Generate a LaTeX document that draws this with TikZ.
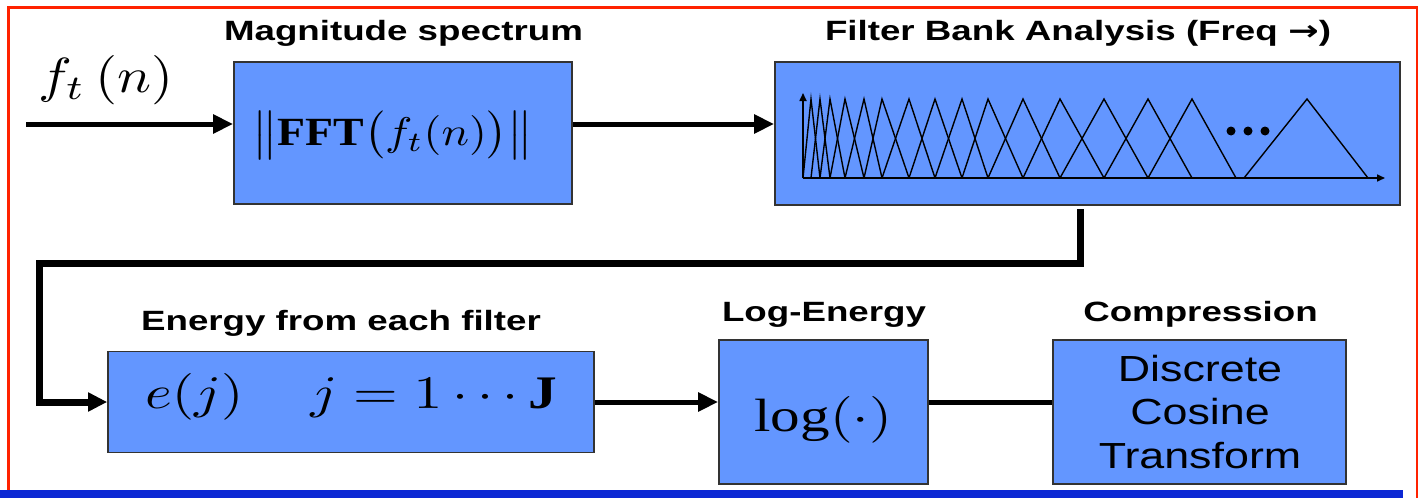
\documentclass[tikz,border=0pt]{standalone}
\usepackage{amsmath}
\usepackage{fontspec}
\setmainfont{Liberation Serif}
\setsansfont{Liberation Sans}
\newfontfamily\arrowfont{DejaVu Sans}
\usepackage{graphicx}
\usepackage{tikz}
\usetikzlibrary{arrows.meta,calc}
\definecolor{boxblue}{RGB}{99,150,255}
\definecolor{framered}{RGB}{255,34,0}
\definecolor{barblue}{RGB}{12,40,212}
\newcommand{\squash}[2][0.76]{\scalebox{1}[#1]{#2}}

\begin{document}
\begin{tikzpicture}[x=1pt,y=-1pt,
    blk/.style={draw=black!80,line width=1.6pt,fill=boxblue,inner sep=0pt},
    lbl/.style={font=\sffamily\bfseries\fontsize{36.7}{40}\selectfont,inner sep=0pt,anchor=base},
    expr/.style={inner sep=0pt,anchor=base west},
    arr/.style={line width=5pt,-{Triangle[length=20pt,width=18pt]}},
    link/.style={line width=7pt,-{Triangle[length=19pt,width=18pt]}},
    axis/.style={line width=1.6pt,-{Triangle[length=8pt,width=7pt]}},
    tri/.style={line width=1.4pt}]
    \useasboundingbox (0,0) rectangle (1422,498);
    % slide frame
    \draw[framered,line width=2.5pt] (8.5,498) -- (8.5,7.5) -- (1417,7.5) -- (1417,498);
    \fill[barblue] (0,490) rectangle (1403,498);

    % blocks
    \node[blk,minimum width=338pt,minimum height=142pt] (fft) at (403,133) {};
    \node[blk,minimum width=625pt,minimum height=143pt] (fbank) at (1087.5,133.5) {};
    \node[blk,minimum width=486pt,minimum height=101pt] (energy) at (351,402) {};
    \node[blk,minimum width=209pt,minimum height=144pt] (logbox) at (823.5,412) {};
    \node[blk,minimum width=293pt,minimum height=144pt] (dct) at (1199.5,412) {};

    % titles above the blocks
    \node[lbl] (magtxt) at (403.5,40.7) {\squash{Magnitude spectrum}};
    \node[lbl] (fbtxt) at (1078,40) {\squash{Filter Bank Analysis (Freq {\arrowfont →})}};
    \node[lbl] (entxt) at (341,330) {\squash{Energy from each filter}};
    \node[lbl] (logtxt) at (824,321) {\squash{Log-Energy}};
    \node[lbl] (comptxt) at (1200.5,321) {\squash{Compression}};

    % block contents
    \node[expr] (sig) at (38,92) {\resizebox{135pt}{37pt}{$f_t\,(n)$}};
    \node[expr] (fftexpr) at (252,145) {\resizebox{281pt}{34pt}{$\bigl\|\mathbf{FFT}\bigl(f_t(n)\bigr)\bigr\|$}};
    \node[expr] (eexpr) at (145,408) {\resizebox{412pt}{35pt}{$e(j)\quad\, j=1\cdots\mathbf{J}$}};
    \node[expr] (logexpr) at (754,431.7) {\resizebox{138pt}{35pt}{$\log(\cdot)$}};
    \node[align=center,font=\sffamily\fontsize{44.8}{43.3}\selectfont,inner sep=0pt] (dcttxt) at (1200,412)
      {\squash[0.81]{Discrete}\\\squash[0.81]{Cosine}\\\squash[0.81]{Transform}};

    % filter bank sketch
    \coordinate (orig) at (803,178);
    \foreach \a/\b/\c in {803/811/820,811/820/830,820/830/845,830/845/864,845/864/882,
      864/882/909,882/909/935,909/935/962,935/962/988,962/988/1023,988/1023/1060,
      1023/1060/1104,1060/1104/1148,1104/1148/1192,1148/1192/1236,1244/1307/1368}
      \draw[tri] (\a,178) -- (\b,99) -- (\c,178);
    \draw[axis] (orig) -- ++(0,-85);
    \draw[axis] (orig) -- ++(582,0);
    \foreach \x in {1231,1248,1265} \fill (\x,131) circle (4.5pt);

    % signal flow
    \coordinate (src) at (26,124);
    \coordinate (tap) at (1080,209);
    \coordinate (turn) at (39,263.5);
    \draw[arr] (src) -- (src -| fft.west);
    \draw[arr] (fft.east |- src) -- (src -| fbank.west);
    \draw[link] (tap) |- (turn) |- (energy.west);
    \draw[arr] (energy.east) -- (energy.east -| logbox.west);
    \draw[line width=5pt] (energy.east -| logbox.east) -- (energy.east -| dct.west);
\end{tikzpicture}
\end{document}
